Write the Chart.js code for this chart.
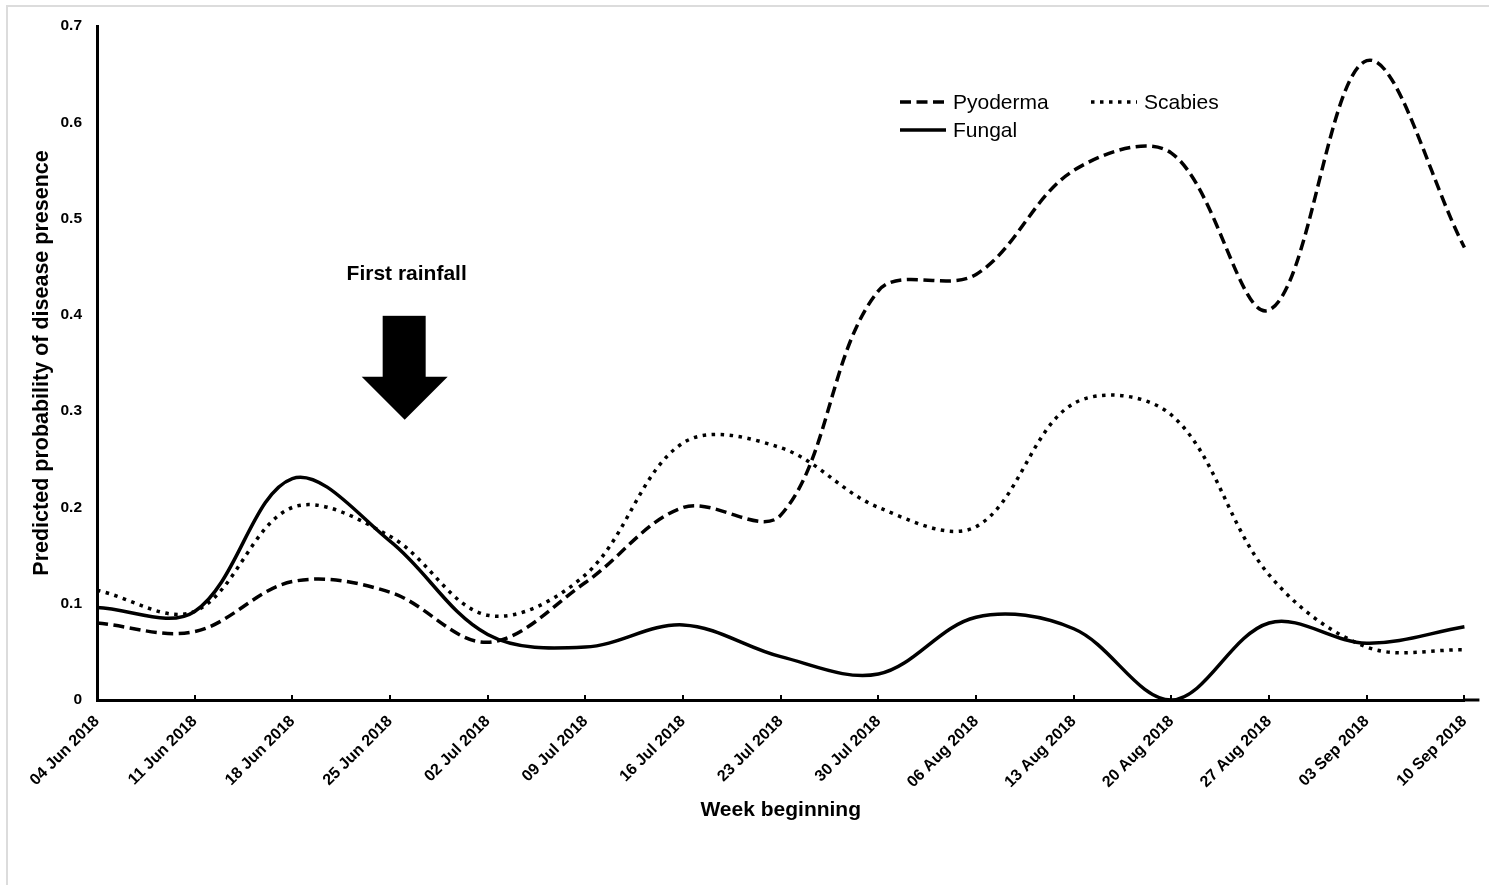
<!DOCTYPE html>
<html lang="en">
  <head>
    <meta charset="UTF-8" />
    <title>Predicted probability of disease presence</title>
    <style>
      html,
      body {
        margin: 0;
        background: #fff;
        overflow: hidden;
      }
      #chart {
        display: block;
      }
    </style>
  </head>
  <body>
    <!-- a few px wider than the window: the rotated last label needs room on the right -->
    <canvas id="chart" width="1495" height="885"></canvas>
    <script src="https://cdn.jsdelivr.net/npm/chart.js"></script>
    <script>
      const weeks = [
        "04 Jun 2018", "11 Jun 2018", "18 Jun 2018", "25 Jun 2018",
        "02 Jul 2018", "09 Jul 2018", "16 Jul 2018", "23 Jul 2018",
        "30 Jul 2018", "06 Aug 2018", "13 Aug 2018", "20 Aug 2018",
        "27 Aug 2018", "03 Sep 2018", "10 Sep 2018",
      ];
      const pyoderma = [0.080, 0.071, 0.123, 0.112, 0.060, 0.122, 0.200, 0.192, 0.425, 0.442, 0.550, 0.568, 0.405, 0.664, 0.470];
      const scabies = [0.114, 0.092, 0.200, 0.170, 0.088, 0.130, 0.267, 0.262, 0.200, 0.180, 0.308, 0.296, 0.130, 0.055, 0.052];
      const fungal = [0.096, 0.092, 0.230, 0.165, 0.068, 0.055, 0.078, 0.045, 0.027, 0.086, 0.074, 0.0, 0.080, 0.059, 0.076];
      const yTicks = [0, 0.1, 0.2, 0.3, 0.4, 0.5, 0.6, 0.7];

      const FONT = '"Liberation Sans", Arial, sans-serif';

      // where the "First rainfall" arrow sits (category index, y values)
      const rainfall = { at: 3.15, label: 0.442, top: 0.399, tip: 0.291 };

      // legend entries: dataset index, line start, text row
      const legendItems = [
        { ds: 0, x: 900, y: 102 },
        { ds: 1, x: 1091, y: 102 },
        { ds: 2, x: 900, y: 130 },
      ];

      const extras = {
        id: "extras",
        beforeDraw(chart) {
          const ctx = chart.ctx;
          ctx.save();
          ctx.fillStyle = "#fff";
          ctx.fillRect(0, 0, chart.width, chart.height);
          // light frame, left and top only
          ctx.strokeStyle = "#dcdcdc";
          ctx.lineWidth = 2;
          ctx.beginPath();
          ctx.moveTo(7, chart.height);
          ctx.lineTo(7, 6);
          ctx.lineTo(chart.width, 6);
          ctx.stroke();
          ctx.restore();
        },
        afterDraw(chart) {
          const ctx = chart.ctx;
          const xs = chart.scales.x;
          const ys = chart.scales.y;
          ctx.save();

          // x axis runs a little past the last week
          ctx.strokeStyle = "#000";
          ctx.lineWidth = 3;
          ctx.beginPath();
          ctx.moveTo(xs.right - 1, ys.bottom);
          ctx.lineTo(xs.right + 15, ys.bottom);
          ctx.stroke();

          // legend
          ctx.font = "21px " + FONT;
          ctx.textBaseline = "middle";
          ctx.fillStyle = "#000";
          legendItems.forEach((item) => {
            const ds = chart.data.datasets[item.ds];
            ctx.save();
            ctx.strokeStyle = ds.borderColor;
            ctx.lineWidth = ds.borderWidth;
            ctx.setLineDash(ds.borderDash || []);
            ctx.beginPath();
            ctx.moveTo(item.x, item.y);
            ctx.lineTo(item.x + 46, item.y);
            ctx.stroke();
            ctx.restore();
            ctx.fillText(ds.label, item.x + 53, item.y + 1);
          });

          // First rainfall arrow
          const ax = xs.getPixelForValue(rainfall.at);
          const top = ys.getPixelForValue(rainfall.top);
          const tip = ys.getPixelForValue(rainfall.tip);
          const neck = tip - 43;
          ctx.fillStyle = "#000";
          ctx.font = "bold 21px " + FONT;
          ctx.textAlign = "center";
          ctx.textBaseline = "middle";
          ctx.fillText("First rainfall", ax + 2, ys.getPixelForValue(rainfall.label));
          ctx.fillRect(ax - 22, top, 43, neck - top + 1);
          ctx.beginPath();
          ctx.moveTo(ax - 43, neck);
          ctx.lineTo(ax + 43, neck);
          ctx.lineTo(ax, tip);
          ctx.closePath();
          ctx.fill();
          ctx.restore();
        },
      };

      const lineStyle = {
        borderColor: "#000",
        borderWidth: 3.5,
        pointRadius: 0,
        fill: false,
        tension: 0.35,
      };

      new Chart(document.getElementById("chart"), {
        type: "line",
        data: {
          labels: weeks,
          datasets: [
            { ...lineStyle, label: "Pyoderma", data: pyoderma, borderDash: [11, 5.5] },
            { ...lineStyle, label: "Scabies", data: scabies, borderDash: [3.5, 5.5] },
            { ...lineStyle, label: "Fungal", data: fungal },
          ],
        },
        options: {
          responsive: false,
          animation: false,
          events: [],
          layout: { padding: { left: 25, top: 26, right: 25, bottom: 58 } },
          plugins: {
            legend: { display: false },
            tooltip: { enabled: false },
          },
          scales: {
            x: {
              offset: false,
              grid: {
                display: true,
                drawOnChartArea: false,
                drawTicks: true,
                tickLength: -5,
                color: "#000",
                lineWidth: 2,
              },
              border: { display: true, color: "#000", width: 3 },
              ticks: {
                autoSkip: false,
                maxRotation: 45,
                minRotation: 45,
                padding: 17,
                color: "#000",
                font: { family: FONT, size: 16, weight: "bold" },
              },
              title: {
                display: true,
                text: "Week beginning",
                color: "#000",
                padding: { top: 4, bottom: 4 },
                font: { family: FONT, size: 21, weight: "bold" },
              },
              afterFit(scale) {
                scale.height = 127;
              },
            },
            y: {
              min: 0,
              max: 0.7,
              grid: { display: false, drawTicks: false },
              border: { display: true, color: "#000", width: 3 },
              afterBuildTicks(scale) {
                scale.ticks = yTicks.map((v) => ({ value: v }));
              },
              ticks: {
                padding: 15,
                color: "#000",
                font: { family: FONT, size: 15.5, weight: "bold" },
                callback: (v) => (v === 0 ? "0" : v.toFixed(1)),
              },
              title: {
                display: true,
                text: "Predicted probability of disease presence",
                color: "#000",
                padding: { top: 4, bottom: 4 },
                font: { family: FONT, size: 21.5, weight: "bold" },
              },
              afterFit(scale) {
                scale.width = 72;
              },
            },
          },
        },
        plugins: [extras],
      });
    </script>
  </body>
</html>
